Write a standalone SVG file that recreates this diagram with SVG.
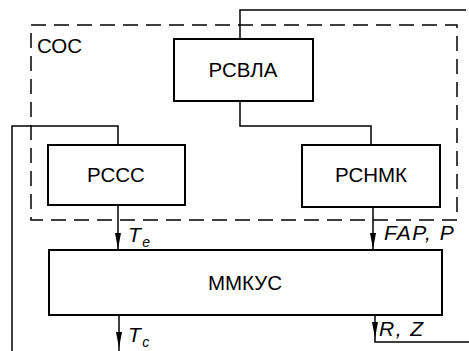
<svg xmlns="http://www.w3.org/2000/svg" width="469" height="351" viewBox="0 0 469 351">
<style>
.box{fill:#fff;stroke:#000;stroke-width:2}
.lbl{font-family:"Liberation Sans",Arial,sans-serif;font-size:20.5px;fill:#000;text-anchor:middle}
.it{font-family:"Liberation Sans",Arial,sans-serif;font-style:italic;font-size:21px;fill:#000;letter-spacing:1.5px}
.sub{font-size:14px}
.c{fill:none;stroke:#000;stroke-width:1.5}
.dash{fill:none;stroke:#000;stroke-width:1.5;stroke-dasharray:15 8}
</style>
<defs>
<marker id="ah" markerUnits="userSpaceOnUse" markerWidth="16" markerHeight="6" refX="16" refY="3" orient="auto" viewBox="0 0 16 6">
<path d="M0,0 L16,3 L0,6 Z" fill="#000"/>
</marker>
</defs>
<rect class="dash" x="31" y="25" width="426" height="195"/>
<text class="lbl" x="37" y="53" style="text-anchor:start">СОС</text>
<g id="connectors">
<path class="c" d="M466,10 H240 V39"/>
<path class="c" d="M240,101 V126 H371 V145"/>
<path class="c" d="M12,351 V126 H118 V145"/>
<path class="c" d="M118,205 V249" marker-end="url(#ah)"/>
<path class="c" d="M373,207 V249" marker-end="url(#ah)"/>
<path class="c" d="M119,315 V348" marker-end="url(#ah)"/>
<path class="c" d="M119,348 V351"/>
<path class="c" d="M375,315 V338" marker-end="url(#ah)"/>
<path class="c" d="M375,338 V342 H469"/>
</g>
<g id="rcvla"><rect class="box" x="174" y="39" width="139" height="62"/><text class="lbl" x="243" y="77">РСВЛА</text></g>
<g id="rccc"><rect class="box" x="48" y="145" width="137" height="60"/><text class="lbl" x="116" y="182">РССС</text></g>
<g id="rchmk"><rect class="box" x="302" y="145" width="138" height="62"/><text class="lbl" x="371" y="182">РСНМК</text></g>
<g id="mmkus"><rect class="box" x="49" y="250" width="393" height="65"/><text class="lbl" x="245" y="290">ММКУС</text></g>
<text class="it" x="128" y="242">T<tspan class="sub" dy="5">e</tspan></text>
<text class="it" x="384" y="240">FAP, P</text>
<text class="it" x="128" y="342">T<tspan class="sub" dy="5">c</tspan></text>
<text class="it" x="379" y="336">R, Z</text>
</svg>
